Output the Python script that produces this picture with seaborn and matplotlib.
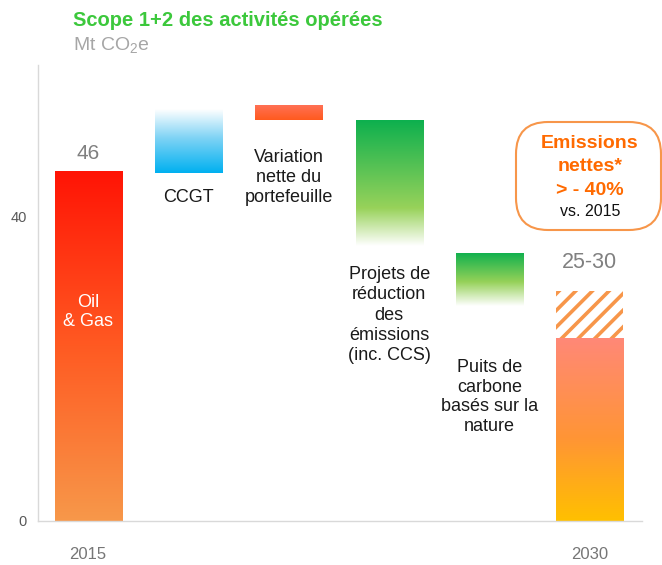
import numpy as np
import pandas as pd
import matplotlib
matplotlib.use("Agg")
import matplotlib.pyplot as plt
import seaborn as sns
from matplotlib.colors import to_rgba
from matplotlib.patches import FancyBboxPatch

# ---------------- data ----------------
steps = ["2015", "CCGT", "Variation", "Projets", "Puits", "2030"]
bar_bottom = [0.0, 45.8, 52.7, 36.2, 28.3, 0.0]
bar_top = [46.0, 54.2, 54.7, 52.7, 35.3, 24.1]
range_low, range_high = 24.1, 30.3
xtick_labels = ["2015", "", "", "", "", "2030"]
step_labels = ["Oil\n& Gas", "CCGT", "Variation\nnette du\nportefeuille",
               "Projets de\nréduction\ndes\némissions\n(inc. CCS)",
               "Puits de\ncarbone\nbasés sur la\nnature", ""]
value_labels = ["46", "", "", "", "", "25-30"]

# gradient stops (bottom -> top)
gradients = [
    [(0.0, "#F7984A"), (0.5, "#FF5A22"), (1.0, "#FF1405")],
    [(0.0, "#00B0F0"), (0.55, "#7FD3F5"), (1.0, "#FFFFFF")],
    [(0.0, "#FF5A1E"), (1.0, "#FF7258")],
    [(0.0, "#FFFFFF"), (0.3, "#98D25A"), (1.0, "#0DB04E")],
    [(0.0, "#FFFFFF"), (0.45, "#95D158"), (1.0, "#0DB04E")],
    [(0.0, "#FFC000"), (0.45, "#FF9535"), (1.0, "#FF8878")],
]

sns.set_theme(style="white")
plt.rcParams['font.family'] = ['Liberation Sans', 'DejaVu Sans']
plt.rcParams['hatch.linewidth'] = 2.6

W, H = 662, 565
fig = plt.figure(figsize=(W / 100, H / 100), dpi=100)
ax = fig.add_axes([38 / W, 44 / H, 604 / W, 456 / H])

df = pd.DataFrame({"step": steps,
                   "height": np.subtract(bar_top, bar_bottom)})
sns.barplot(data=df, x="step", y="height", ax=ax, width=0.67,
            color="white", linewidth=0, order=steps)


def grad_array(stops, n=256):
    pos = np.array([s[0] for s in stops])
    cols = np.array([to_rgba(s[1]) for s in stops])
    t = np.linspace(0, 1, n)
    arr = np.stack([np.interp(t, pos, cols[:, k]) for k in range(4)], axis=1)
    return arr[:, None, :]


for patch, b, top, stops in zip(ax.patches, bar_bottom, bar_top, gradients):
    patch.set_y(b)
    patch.set_height(top - b)
    patch.set_facecolor("none")
    x0 = patch.get_x()
    x1 = x0 + patch.get_width()
    im = ax.imshow(grad_array(stops), extent=[x0, x1, b, top], origin="lower",
                   aspect="auto", interpolation="bilinear", zorder=2)
    im.set_clip_path(patch)

# hatched range on 2030 bar
ax.bar(5, range_high - range_low, bottom=range_low, width=0.67,
       facecolor="white", edgecolor="#F7964A", hatch="//", linewidth=0, zorder=2)

ax.set_xlim(-0.5, 5.52)
ax.set_ylim(0, 60)
ax.set_xlabel("")
ax.set_ylabel("")
ax.set_yticks([0, 40])
ax.set_xticks(range(len(steps)))
ax.set_xticklabels(xtick_labels)
ax.tick_params(axis="y", length=0, pad=8, labelsize=10.5, labelcolor="#595959")
ax.tick_params(axis="x", length=0, pad=19, labelsize=12, labelcolor="#767676")
for s in ["top", "right"]:
    ax.spines[s].set_visible(False)
for s in ["left", "bottom"]:
    ax.spines[s].set_color("#D9D9D9")
    ax.spines[s].set_linewidth(1.0)

# value labels
ax.text(0, 48.4, value_labels[0], ha="center", va="center", fontsize=15, color="#808080")
ax.text(5, 34.0, value_labels[5], ha="center", va="center", fontsize=15.5, color="#808080")

# step labels
ax.text(0, 27.5, step_labels[0], ha="center", va="center", fontsize=13,
        color="white", linespacing=1.2, zorder=3)
ax.text(1, 42.5, step_labels[1], ha="center", va="center", fontsize=13, color="#1A1A1A")
ax.text(2, 45.2, step_labels[2], ha="center", va="center", fontsize=13,
        color="#1A1A1A", linespacing=1.25)
ax.text(3, 27.1, step_labels[3], ha="center", va="center", fontsize=13,
        color="#1A1A1A", linespacing=1.25)
ax.text(4, 16.3, step_labels[4], ha="center", va="center", fontsize=13,
        color="#1A1A1A", linespacing=1.2)

# title
fig.text(73 / W, 1 - 20 / H, "Scope 1+2 des activités opérées", ha="left", va="center",
         fontsize=14.5, fontweight="bold", color="#3CC83C")
fig.text(73 / W, 1 - 45 / H, r"Mt CO$\mathregular{_2}$e", ha="left", va="center",
         fontsize=14, color="#A6A6A6")

# callout box (pixel coordinates)
box = FancyBboxPatch((516, H - 230), 145, 108,
                     boxstyle="round,pad=0,rounding_size=32",
                     transform=None, facecolor="white", edgecolor="#F7964A",
                     linewidth=1.5, clip_on=False)
fig.add_artist(box)
cx = 590 / W
for txt, yy in [("Emissions", 143), ("nettes*", 167), ("> - 40%", 190)]:
    fig.text(cx, 1 - yy / H, txt, ha="center", va="center", fontsize=14,
             fontweight="bold", color="#FF6A00")
fig.text(cx, 1 - 212 / H, "vs. 2015", ha="center", va="center", fontsize=11.5,
         color="#111111")

fig.savefig("out.png", dpi=100)
